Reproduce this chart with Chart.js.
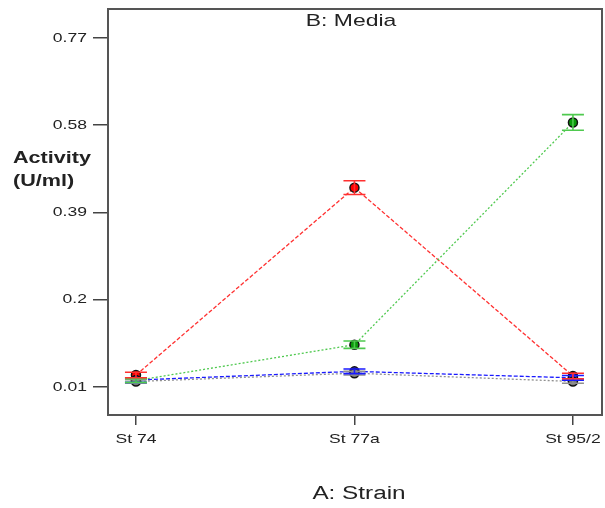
<!DOCTYPE html>
<html><head><meta charset="utf-8">
<script src="https://cdn.jsdelivr.net/npm/chart.js@4/dist/chart.umd.min.js"></script>
<style>html,body{margin:0;padding:0;background:#fff}#wrap{width:605px;height:508px}</style>
</head><body><div id="wrap"><canvas id="c" width="605" height="508"></canvas></div>
<script>
const categories = ["St 74", "St 77a", "St 95/2"];
const yTicks = [0.01, 0.2, 0.39, 0.58, 0.77];
const redVals = [0.036, 0.444, 0.034];
const redErr = [0.006, 0.015, 0.006];
const greenVals = [0.024, 0.102, 0.586];
const greenErr = [0.004, 0.008, 0.017];
const blueVals = [0.025, 0.044, 0.030];
const blueErr = [0.005, 0.005, 0.005];
const grayVals = [0.022, 0.040, 0.022];
const grayErr = [0.004, 0.004, 0.004];
const chartTitle = "B: Media";
const xTitle = "A: Strain";
const yTitle = ["Activity", "(U/ml)"];

const FONT = '"Liberation Sans", Arial, sans-serif';
const SX = 1.35;

function mk(label, vals, errs, line, fill, dash) {
  return {
    label, data: vals.map((v, i) => ({x: i, y: v})), errors: errs,
    borderColor: line, backgroundColor: fill, borderWidth: 1.3, borderDash: dash,
    pointRadius: 4.5, pointBackgroundColor: fill, pointBorderColor: '#111', pointBorderWidth: 1.5,
    errColor: line, tension: 0
  };
}

function stretchText(ctx, text, x, y, align) {
  ctx.save();
  ctx.translate(x, y);
  ctx.scale(SX, 1);
  ctx.textAlign = align;
  ctx.fillText(text, 0, 0);
  ctx.restore();
}

const errorBars = {
  id: 'errorBars',
  afterDatasetsDraw(chart) {
    const ctx = chart.ctx, xs = chart.scales.x, ys = chart.scales.y;
    chart.data.datasets.forEach(ds => {
      ctx.save();
      ctx.strokeStyle = ds.errColor; ctx.lineWidth = 1.6; ctx.setLineDash([]);
      ds.data.forEach((p, i) => {
        const e = ds.errors[i];
        const x = xs.getPixelForValue(p.x);
        const yt = ys.getPixelForValue(p.y + e), yb = ys.getPixelForValue(p.y - e);
        ctx.beginPath();
        ctx.moveTo(x, yt); ctx.lineTo(x, yb);
        ctx.moveTo(x - 11, yt); ctx.lineTo(x + 11, yt);
        ctx.moveTo(x - 11, yb); ctx.lineTo(x + 11, yb);
        ctx.stroke();
      });
      ctx.restore();
    });
  }
};

const decor = {
  id: 'decor',
  afterDraw(chart) {
    const ctx = chart.ctx, a = chart.chartArea, xs = chart.scales.x, ys = chart.scales.y;
    ctx.save();
    ctx.strokeStyle = '#555'; ctx.lineWidth = 2;
    ctx.strokeRect(a.left, a.top, a.right - a.left, a.bottom - a.top);
    ctx.fillStyle = '#222';
    ctx.textBaseline = 'middle';
    ctx.font = '13px ' + FONT;
    ys.ticks.forEach(t => stretchText(ctx, String(t.value), 87, ys.getPixelForValue(t.value), 'right'));
    xs.ticks.forEach(t => stretchText(ctx, categories[t.value], xs.getPixelForValue(t.value), 439, 'center'));
    ctx.font = '17px ' + FONT;
    stretchText(ctx, chartTitle, 351, 21, 'center');
    ctx.font = '18px ' + FONT;
    stretchText(ctx, xTitle, 359, 494, 'center');
    ctx.font = 'bold 16px ' + FONT;
    stretchText(ctx, yTitle[0], 13, 159, 'left');
    stretchText(ctx, yTitle[1], 13, 182, 'left');
    ctx.restore();
  }
};

new Chart(document.getElementById('c'), {
  type: 'line',
  data: {
    datasets: [
      mk('gray', grayVals, grayErr, '#909090', '#7a7a7a', [2, 2]),
      mk('blue', blueVals, blueErr, '#1a1aff', '#3030ff', [4, 2]),
      mk('green', greenVals, greenErr, '#4fc94f', '#0a9a0a', [2, 2]),
      mk('red', redVals, redErr, '#ff3030', '#ff0000', [4, 2])
    ]
  },
  options: {
    responsive: false, animation: false,
    layout: {autoPadding: false, padding: {top: 9, right: 3, left: 0, bottom: 0}},
    plugins: {legend: {display: false}, tooltip: {enabled: false}},
    scales: {
      x: {
        type: 'linear', min: -0.128, max: 2.133,
        afterBuildTicks(s) { s.ticks = categories.map((c, i) => ({value: i})); },
        afterFit(s) { s.height = 93; },
        ticks: {display: false},
        grid: {display: true, drawOnChartArea: false, drawTicks: true, tickLength: 10, color: '#444', lineWidth: 1.5},
        border: {display: false}
      },
      y: {
        type: 'linear', min: -0.051, max: 0.833,
        afterBuildTicks(s) { s.ticks = yTicks.map(v => ({value: v})); },
        afterFit(s) { s.width = 108; },
        ticks: {display: false},
        grid: {display: true, drawOnChartArea: false, drawTicks: true, tickLength: 15, color: '#444', lineWidth: 1.5},
        border: {display: false}
      }
    }
  },
  plugins: [errorBars, decor]
});
</script></body></html>
